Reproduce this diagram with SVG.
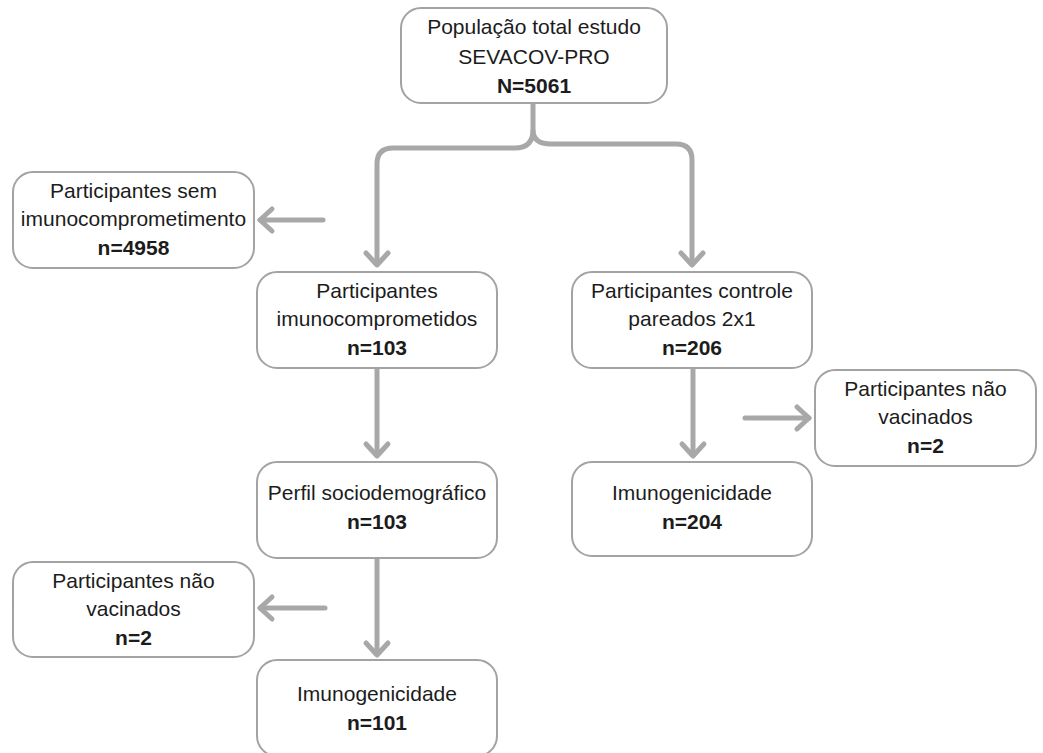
<svg xmlns="http://www.w3.org/2000/svg" width="1043" height="753" viewBox="0 0 1043 753">
<style>
.box{fill:#fff;stroke:#a3a3a3;stroke-width:2}
.t{font-family:"Liberation Sans",Arial,sans-serif;font-size:21px;fill:#1c1c1c;text-anchor:middle}
.b{font-weight:bold}
.c{fill:none;stroke:#a8a8a8;stroke-width:5;stroke-linejoin:round}
</style>
<defs>
<marker id="ah" markerUnits="userSpaceOnUse" markerWidth="40" markerHeight="40" viewBox="-20 -20 40 40" refX="0" refY="0" orient="auto" overflow="visible">
<path d="M-12,-11 L0,0 L-12,11" fill="none" stroke="#a8a8a8" stroke-width="5" stroke-linecap="round" stroke-linejoin="round"/>
</marker>
</defs>
<g id="connectors">
<path class="c" d="M533,103 V130 Q533,148 515,148 H393 Q377,148 377,164 V265" marker-end="url(#ah)"/>
<path class="c" d="M533,130 Q533,144 551,144 H676 Q692,144 692,160 V265" marker-end="url(#ah)"/>
<path class="c" d="M323,220 H260" stroke-linecap="round" marker-end="url(#ah)"/>
<path class="c" d="M377,368 V456" marker-end="url(#ah)"/>
<path class="c" d="M693,368 V456" marker-end="url(#ah)"/>
<path class="c" d="M745,418 H809" stroke-linecap="round" marker-end="url(#ah)"/>
<path class="c" d="M377,558 V655" marker-end="url(#ah)"/>
<path class="c" d="M325,608 H260" stroke-linecap="round" marker-end="url(#ah)"/>
</g>
<g id="n_total">
<rect class="box" x="401" y="8" width="266" height="95" rx="20"/>
<text class="t" x="534" y="34">População total estudo</text>
<text class="t" x="534" y="63.5">SEVACOV-PRO</text>
<text class="t b" x="534" y="93">N=5061</text>
</g>
<g id="n_sem">
<rect class="box" x="13" y="172" width="241" height="96" rx="20"/>
<text class="t" x="133.5" y="197.5">Participantes sem</text>
<text class="t" x="133.5" y="226">imunocomprometimento</text>
<text class="t b" x="133.5" y="254.5">n=4958</text>
</g>
<g id="n_imuno">
<rect class="box" x="257" y="272" width="240" height="96" rx="20"/>
<text class="t" x="377" y="297.5">Participantes</text>
<text class="t" x="377" y="326">imunocomprometidos</text>
<text class="t b" x="377" y="354.5">n=103</text>
</g>
<g id="n_controle">
<rect class="box" x="572" y="272" width="240" height="96" rx="20"/>
<text class="t" x="692" y="297.5">Participantes controle</text>
<text class="t" x="692" y="326">pareados 2x1</text>
<text class="t b" x="692" y="354.5">n=206</text>
</g>
<g id="n_naovac_r">
<rect class="box" x="815" y="370" width="221" height="96" rx="20"/>
<text class="t" x="925.5" y="395.5">Participantes não</text>
<text class="t" x="925.5" y="424">vacinados</text>
<text class="t b" x="925.5" y="452.5">n=2</text>
</g>
<g id="n_perfil">
<rect class="box" x="257" y="462" width="240" height="96" rx="20"/>
<text class="t" x="377" y="500">Perfil sociodemográfico</text>
<text class="t b" x="377" y="528.5">n=103</text>
</g>
<g id="n_imunogen204">
<rect class="box" x="572" y="462" width="240" height="94" rx="20"/>
<text class="t" x="692" y="500">Imunogenicidade</text>
<text class="t b" x="692" y="528.5">n=204</text>
</g>
<g id="n_naovac_l">
<rect class="box" x="13" y="562" width="241" height="95" rx="20"/>
<text class="t" x="133.5" y="587.5">Participantes não</text>
<text class="t" x="133.5" y="616">vacinados</text>
<text class="t b" x="133.5" y="644.5">n=2</text>
</g>
<g id="n_imunogen101">
<rect class="box" x="257" y="660" width="240" height="96" rx="20"/>
<text class="t" x="377" y="701">Imunogenicidade</text>
<text class="t b" x="377" y="729.5">n=101</text>
</g>
</svg>
